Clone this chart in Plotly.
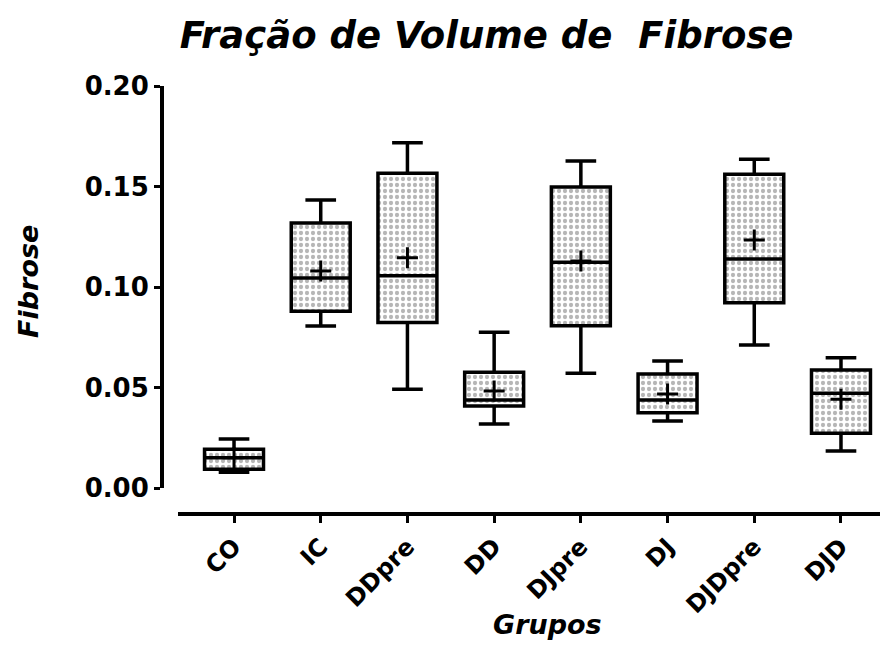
import plotly.graph_objects as go

# Box summary per group (fraction of fibrosis volume)
groups = ["CO", "IC", "DDpre", "DD", "DJpre", "DJ", "DJDpre", "DJD"]
minimum = [0.0078, 0.0806, 0.0491, 0.0318, 0.0571, 0.0333, 0.0711, 0.0184]
q1 = [0.0093, 0.0880, 0.0824, 0.0408, 0.0807, 0.0375, 0.0922, 0.0272]
median = [0.0150, 0.1045, 0.1056, 0.0438, 0.1123, 0.0438, 0.1139, 0.0471]
q3 = [0.0193, 0.1318, 0.1566, 0.0576, 0.1498, 0.0567, 0.1561, 0.0587]
maximum = [0.0244, 0.1433, 0.1718, 0.0775, 0.1627, 0.0632, 0.1635, 0.0648]
mean = [0.0150, 0.1080, 0.1146, 0.0483, 0.1129, 0.0468, 0.1234, 0.0441]

y_ticks = [0.00, 0.05, 0.10, 0.15, 0.20]
y_tick_labels = ["0.00", "0.05", "0.10", "0.15", "0.20"]

FONT = "DejaVu Sans"
BOX_W = 0.68

fig = go.Figure()

# Stippled fill of the interquartile range
fig.add_trace(go.Bar(
    x=groups,
    y=[b - a for a, b in zip(q1, q3)],
    base=q1,
    width=BOX_W,
    marker=dict(
        color="white",
        line=dict(width=0),
        pattern=dict(shape=".", size=6, solidity=0.4,
                     fgcolor="#6e6e6e", bgcolor="white"),
    ),
    hoverinfo="skip",
    showlegend=False,
))

# Box outlines, medians and min/max whiskers
fig.add_trace(go.Box(
    x=groups,
    q1=q1,
    median=median,
    q3=q3,
    lowerfence=minimum,
    upperfence=maximum,
    width=BOX_W,
    whiskerwidth=0.52,
    fillcolor="rgba(0,0,0,0)",
    line=dict(color="black", width=3.5),
    boxpoints=False,
    showlegend=False,
))

# Group means
fig.add_trace(go.Scatter(
    x=groups,
    y=mean,
    mode="markers",
    marker=dict(symbol="cross-thin", size=15, color="black",
                line=dict(width=3, color="black")),
    showlegend=False,
))

fig.update_layout(
    width=880,
    height=652,
    margin=dict(l=162, r=0, t=86, b=138),
    paper_bgcolor="white",
    plot_bgcolor="white",
    font=dict(family=FONT, color="black"),
    barmode="overlay",
    title=dict(
        text="<b><i>Fração de Volume de  Fibrose</i></b>",
        x=0.553, xanchor="center", y=0.947, yanchor="middle",
        font=dict(family=FONT, size=37, color="black"),
    ),
    xaxis=dict(
        domain=[0.0223, 1],
        range=[-0.646, 7.45],
        type="category",
        categoryorder="array",
        categoryarray=groups,
        showline=True, linewidth=4, linecolor="black",
        ticks="outside", ticklen=7, tickwidth=3, tickcolor="black",
        tickangle=-45,
        tickfont=dict(family=FONT, size=24, color="black", weight="bold"),
        showgrid=False, zeroline=False,
        anchor="free", position=0,
    ),
    yaxis=dict(
        domain=[0.0607, 1],
        range=[0, 0.2],
        tickvals=y_ticks,
        ticktext=y_tick_labels,
        showline=True, linewidth=4, linecolor="black",
        ticks="outside", ticklen=6, tickwidth=3, tickcolor="black",
        tickfont=dict(family=FONT, size=26, color="black", weight="bold"),
        showgrid=False, zeroline=False,
        anchor="free", position=0,
    ),
    annotations=[
        dict(text="<b><i>Grupos</i></b>", xref="paper", yref="paper",
             x=0.5376, y=-0.259, xanchor="center", yanchor="middle",
             showarrow=False, font=dict(family=FONT, size=27, color="black")),
        dict(text="<b><i>Fibrose</i></b>", xref="paper", yref="paper",
             x=-0.187, y=0.544, xanchor="center", yanchor="middle",
             textangle=-90, showarrow=False,
             font=dict(family=FONT, size=27, color="black")),
    ],
)

fig.write_html("out.html")
